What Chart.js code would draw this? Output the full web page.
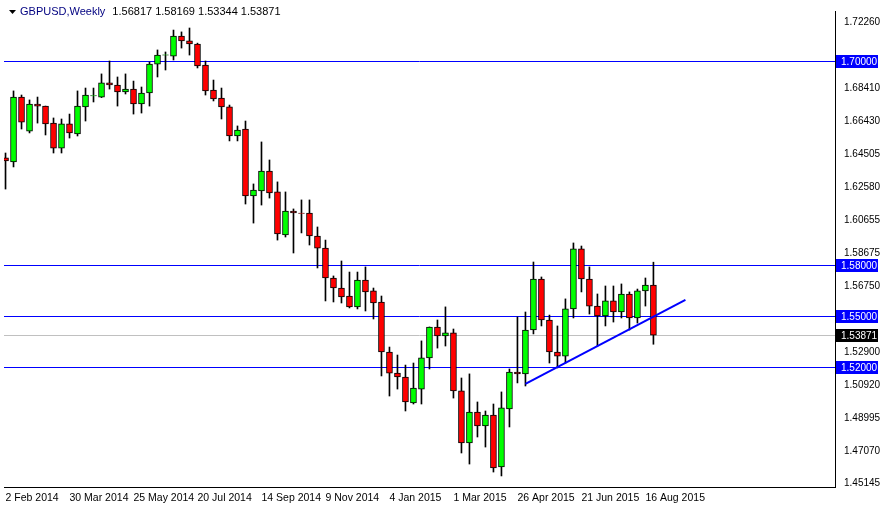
<!DOCTYPE html>
<html>
<head>
<meta charset="utf-8">
<script src="https://cdn.jsdelivr.net/npm/chart.js@4"></script>
<style>
  html, body { margin: 0; padding: 0; background: #fff; }
  #wrap { width: 880px; height: 507px; }
</style>
</head>
<body>
<div id="wrap"><canvas id="c" width="880" height="507"></canvas></div>
<script>
// GBPUSD weekly, 2 Feb 2014 .. 16 Aug 2015
const opens  = [1.6430,1.6406,1.6788,1.6588,1.6747,1.6735,1.6635,1.6488,1.6630,1.6571,1.6730,1.6794,1.6788,1.6871,1.6859,1.6818,
  1.6835,1.6747,1.6812,1.6982,1.7035,1.7029,1.7147,1.7118,1.7100,1.6976,1.6829,1.6782,1.6730,1.6559,1.6600,1.6206,
  1.6236,1.6353,1.6230,1.5977,1.6118,1.6106,1.6106,1.5971,1.5900,1.5724,1.5665,1.5618,1.5554,1.5712,1.5648,1.5583,
  1.5289,1.5165,1.5142,1.4989,1.5071,1.5254,1.5436,1.5383,1.5401,1.5060,1.4754,1.4936,1.4854,1.4918,1.4613,1.4954,
  1.5171,1.5160,1.5418,1.5718,1.5477,1.5289,1.5265,1.5542,1.5895,1.5718,1.5559,1.5501,1.5589,1.5524,1.5630,1.5489,
  1.5648,1.56817];
const highs  = [1.6459,1.6824,1.6800,1.6771,1.6788,1.6735,1.6665,1.6659,1.6688,1.6824,1.6841,1.6841,1.6924,1.7000,1.6906,1.6924,
  1.6882,1.6847,1.6994,1.7065,1.7053,1.7182,1.7171,1.7194,1.7105,1.7000,1.6888,1.6841,1.6741,1.6618,1.6647,1.6277,
  1.6524,1.6418,1.6289,1.6230,1.6130,1.6183,1.6183,1.6024,1.5947,1.5736,1.5824,1.5759,1.5759,1.5789,1.5665,1.5618,
  1.5318,1.5271,1.5212,1.5224,1.5354,1.5436,1.5477,1.5554,1.5424,1.5136,1.5160,1.4995,1.4942,1.4983,1.5054,1.5189,
  1.5495,1.5524,1.5818,1.5730,1.5506,1.5442,1.5601,1.5930,1.5912,1.5789,1.5630,1.5677,1.5677,1.5689,1.5642,1.5659,
  1.5724,1.58169];
const lows   = [1.6247,1.6377,1.6600,1.6577,1.6635,1.6565,1.6459,1.6459,1.6547,1.6559,1.6647,1.6759,1.6785,1.6835,1.6735,1.6806,
  1.6688,1.6694,1.6735,1.6906,1.6947,1.7006,1.7076,1.7035,1.6959,1.6800,1.6765,1.6659,1.6530,1.6530,1.6159,1.6047,
  1.6153,1.6194,1.5947,1.5965,1.5871,1.5989,1.5918,1.5783,1.5589,1.5583,1.5577,1.5548,1.5542,1.5530,1.5483,1.5148,
  1.5030,1.5071,1.4942,1.4983,1.4983,1.5189,1.5312,1.5324,1.5018,1.4695,1.4630,1.4789,1.4730,1.4583,1.4560,1.4848,
  1.5107,1.5089,1.5395,1.5442,1.5224,1.5195,1.5224,1.5489,1.5642,1.5512,1.5324,1.5442,1.5465,1.5489,1.5418,1.5459,
  1.5559,1.53344];
const closes = [1.6412,1.6788,1.6641,1.6747,1.6735,1.6630,1.6488,1.6630,1.6577,1.6735,1.6800,1.6796,1.6871,1.6859,1.6818,1.6835,
  1.6747,1.6812,1.6982,1.7035,1.7037,1.7147,1.7118,1.7100,1.6971,1.6824,1.6777,1.6730,1.6559,1.6594,1.6206,1.6241,
  1.6353,1.6224,1.5983,1.6118,1.6106,1.6104,1.5971,1.5900,1.5724,1.5665,1.5612,1.5554,1.5712,1.5642,1.5577,1.5289,
  1.5165,1.5142,1.4995,1.5077,1.5254,1.5436,1.5383,1.5401,1.5060,1.4754,1.4936,1.4854,1.4918,1.4607,1.4960,1.5171,
  1.5160,1.5418,1.5718,1.5477,1.5289,1.5265,1.5542,1.5895,1.5718,1.5559,1.5501,1.5589,1.5524,1.5630,1.5489,1.5648,
  1.5683,1.53871];

const dateLabels = ["2 Feb 2014","30 Mar 2014","25 May 2014","20 Jul 2014","14 Sep 2014","9 Nov 2014",
  "4 Jan 2015","1 Mar 2015","26 Apr 2015","21 Jun 2015","16 Aug 2015"];
const priceTicks = [1.72260,1.68410,1.66430,1.64505,1.62580,1.60655,1.58675,1.56750,1.52900,1.50920,1.48995,1.47070,1.45145];
const levels = [1.70000, 1.58000, 1.55000, 1.52000];
const bid = 1.53871;
const trendX = [65, 85];
const trendY = [1.5101, 1.5595];

const FONT = "'Liberation Sans', Arial, sans-serif";

const wicks = opens.map((o, i) => ({ x: i, y: [lows[i], highs[i]] }));
const bodies = opens.map((o, i) => ({ x: i, y: [o, closes[i] === o ? o + 0.0001 : closes[i]] }));
const bodyColors = opens.map((o, i) => closes[i] >= o ? "#00ff00" : "#ff0000");

const mtPlugin = {
  id: "mt",
  beforeDraw(chart) {
    const ctx = chart.ctx;
    ctx.save();
    ctx.fillStyle = "#fff";
    ctx.fillRect(0, 0, chart.width, chart.height);
    ctx.restore();
  },
  beforeDatasetsDraw(chart) {
    const { ctx, chartArea: a, scales: { y } } = chart;
    ctx.save();
    ctx.lineWidth = 1;
    const hline = (v, col) => {
      const p = Math.round(y.getPixelForValue(v)) + 0.5;
      ctx.strokeStyle = col;
      ctx.beginPath(); ctx.moveTo(a.left, p); ctx.lineTo(a.right, p); ctx.stroke();
    };
    hline(bid, "#c0c0c0");
    levels.forEach(v => hline(v, "#0000ff"));
    ctx.restore();
  },
  afterDraw(chart) {
    const { ctx, chartArea: a, scales: { y } } = chart;
    ctx.save();
    ctx.font = "10px " + FONT;
    ctx.textBaseline = "middle";
    const box = (v, bg) => {
      const p = Math.round(y.getPixelForValue(v));
      ctx.fillStyle = bg;
      ctx.fillRect(a.right + 1, p - 6, 42, 13);
      ctx.fillStyle = "#fff";
      ctx.fillText(v.toFixed(5), a.right + 6, p + 1);
    };
    levels.forEach(v => box(v, "#0000ff"));
    box(bid, "#000");
    // header
    ctx.font = "11px " + FONT;
    ctx.fillStyle = "#000";
    ctx.beginPath(); ctx.moveTo(9, 10); ctx.lineTo(16, 10); ctx.lineTo(12.5, 14); ctx.closePath(); ctx.fill();
    ctx.fillStyle = "#000080";
    ctx.fillText("GBPUSD,Weekly", 20, 12);
    const w = ctx.measureText("GBPUSD,Weekly").width;
    ctx.fillStyle = "#000";
    ctx.fillText("1.56817 1.58169 1.53344 1.53871", 20 + w + 7, 12);
    ctx.restore();
  }
};

new Chart(document.getElementById("c"), {
  type: "bar",
  data: {
    datasets: [
      { type: "line", data: trendX.map((x, i) => ({ x, y: trendY[i] })), borderColor: "#0000ff", borderWidth: 2,
        pointRadius: 0, order: 0 },
      { data: bodies, backgroundColor: bodyColors, borderColor: "#000", borderWidth: 1, borderSkipped: false,
        barThickness: 6, grouped: false, order: 1 },
      { data: wicks, backgroundColor: "#000", barThickness: 1, grouped: false, order: 2 }
    ]
  },
  options: {
    responsive: false,
    animation: false,
    devicePixelRatio: 1,
    layout: { padding: { left: 4, top: -2, right: 0, bottom: 0 } },
    plugins: { legend: { display: false }, tooltip: { enabled: false } },
    scales: {
      x: {
        type: "linear", min: -0.19, max: 103.7, offset: false,
        grid: { display: false, drawTicks: false },
        border: { color: "#000" },
        afterBuildTicks: s => { s.ticks = dateLabels.map((l, i) => ({ value: i * 8 })); },
        afterFit: s => { s.height = 20; },
        ticks: {
          autoSkip: false, maxRotation: 0, align: "start", padding: 5,
          color: "#000", font: { family: FONT, size: 10.5 },
          callback: v => dateLabels[v / 8]
        }
      },
      y: {
        position: "right", min: 1.4495, max: 1.7294,
        grid: { display: false, tickLength: 4, drawOnChartArea: false, color: "#000" },
        border: { color: "#000" },
        afterBuildTicks: s => { s.ticks = priceTicks.map(v => ({ value: v })); },
        afterFit: s => { s.width = 45; },
        ticks: {
          padding: 5, color: "#000", font: { family: FONT, size: 10 },
          callback: v => v.toFixed(5)
        }
      }
    }
  },
  plugins: [mtPlugin]
});
</script>
</body>
</html>
